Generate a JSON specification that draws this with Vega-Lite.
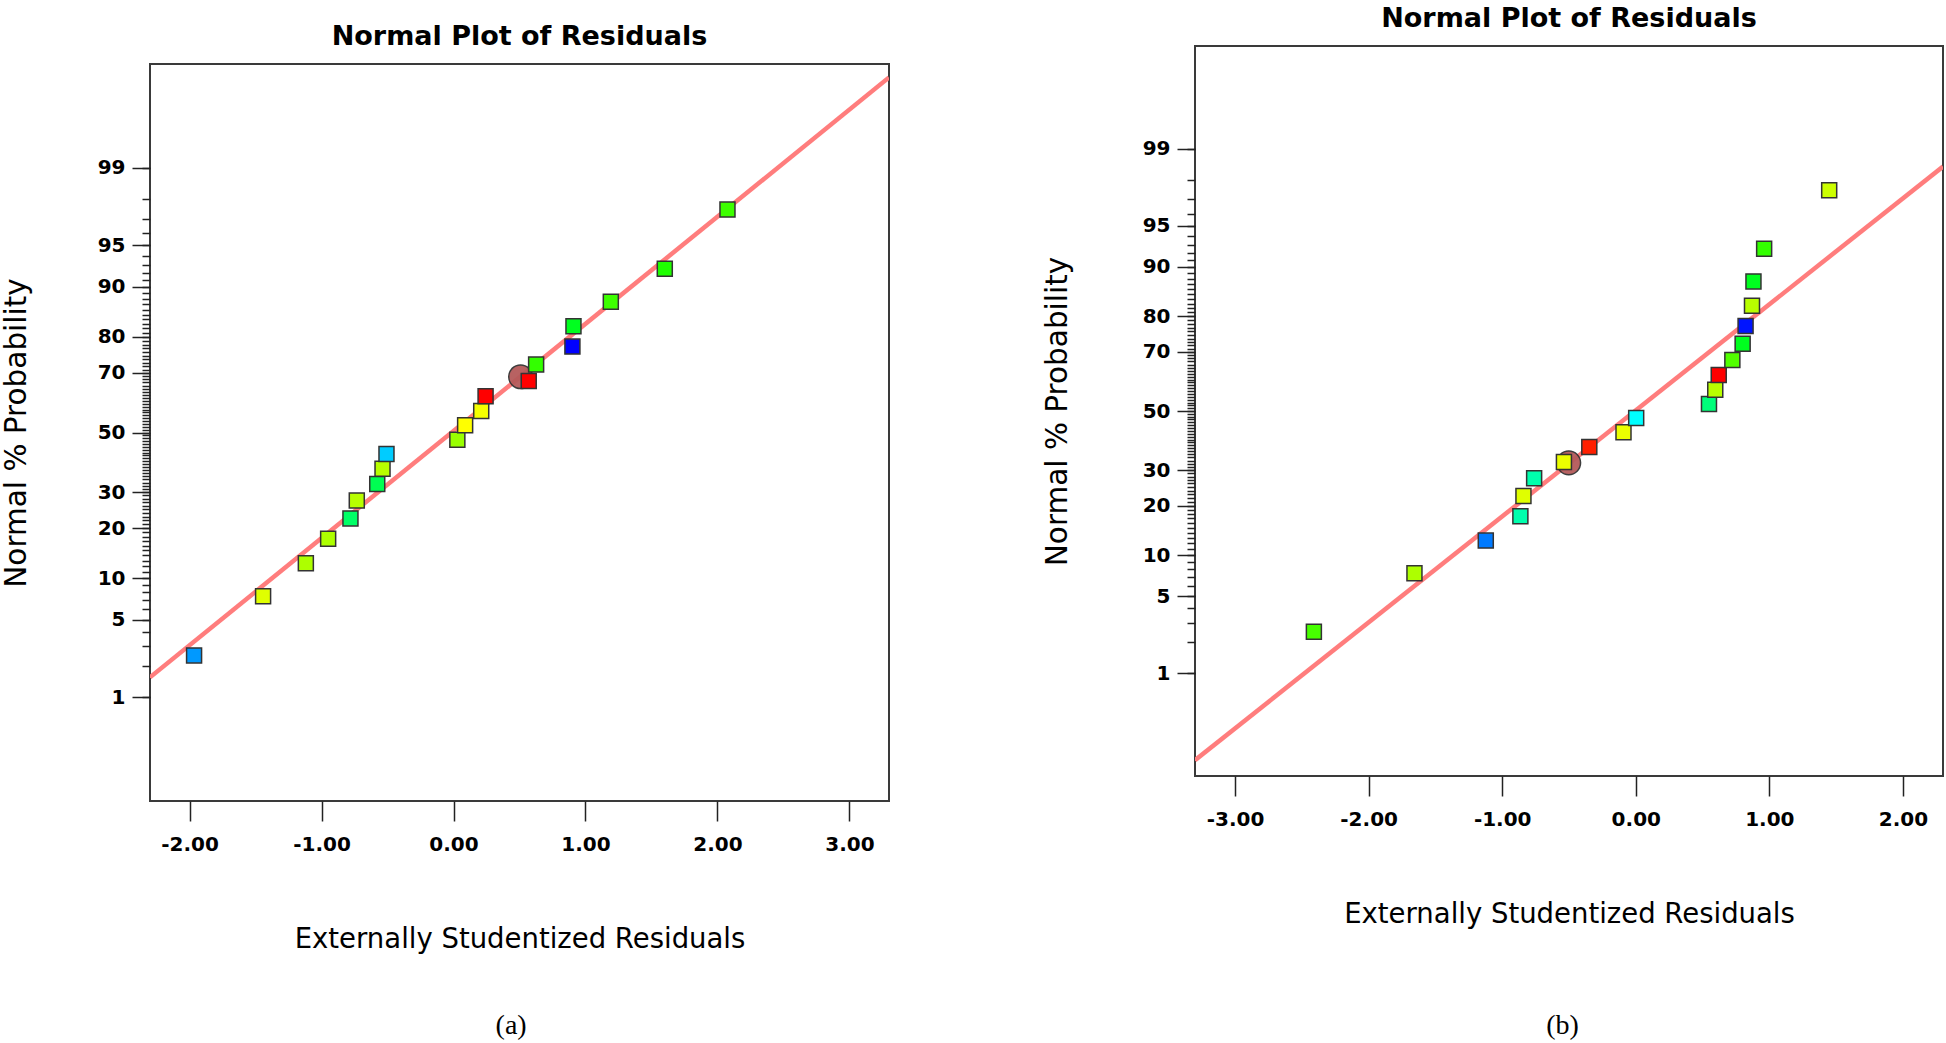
{
  "$schema": "https://vega.github.io/schema/vega-lite/v6.json",
  "padding": {"left": 0, "top": 3, "right": 0, "bottom": 0},
  "background": "white",
  "spacing": 151,
  "datasets": {
    "ptsA": [
      {"x": -1.966, "z": -1.9600, "level": 0.15},
      {"x": -1.443, "z": -1.4395, "level": 0.72},
      {"x": -1.119, "z": -1.1503, "level": 0.67},
      {"x": -0.950, "z": -0.9346, "level": 0.67},
      {"x": -0.781, "z": -0.7554, "level": 0.40},
      {"x": -0.733, "z": -0.5978, "level": 0.68},
      {"x": -0.578, "z": -0.4538, "level": 0.42},
      {"x": -0.538, "z": -0.3186, "level": 0.68},
      {"x": -0.508, "z": -0.1891, "level": 0.20},
      {"x": 0.029, "z": -0.0627, "level": 0.65},
      {"x": 0.088, "z": 0.0627, "level": 0.75},
      {"x": 0.210, "z": 0.1891, "level": 0.74},
      {"x": 0.243, "z": 0.3186, "level": 1.0},
      {"x": 0.570, "z": 0.4538, "level": 1.0},
      {"x": 0.626, "z": 0.5978, "level": 0.55},
      {"x": 0.901, "z": 0.7554, "level": 0.0},
      {"x": 0.909, "z": 0.9346, "level": 0.47},
      {"x": 1.192, "z": 1.1503, "level": 0.56},
      {"x": 1.601, "z": 1.4395, "level": 0.53},
      {"x": 2.076, "z": 1.9600, "level": 0.56}
    ],
    "ptsB": [
      {"x": -2.410, "z": -1.9600, "level": 0.57},
      {"x": -1.657, "z": -1.4395, "level": 0.67},
      {"x": -1.123, "z": -1.1503, "level": 0.12},
      {"x": -0.864, "z": -0.9346, "level": 0.33},
      {"x": -0.841, "z": -0.7554, "level": 0.72},
      {"x": -0.761, "z": -0.5978, "level": 0.33},
      {"x": -0.538, "z": -0.4538, "level": 0.73},
      {"x": -0.348, "z": -0.3186, "level": 0.97},
      {"x": -0.092, "z": -0.1891, "level": 0.73},
      {"x": 0.003, "z": -0.0627, "level": 0.25},
      {"x": 0.548, "z": 0.0627, "level": 0.38},
      {"x": 0.595, "z": 0.1891, "level": 0.68},
      {"x": 0.621, "z": 0.3186, "level": 1.0},
      {"x": 0.723, "z": 0.4538, "level": 0.58},
      {"x": 0.800, "z": 0.5978, "level": 0.47},
      {"x": 0.822, "z": 0.7554, "level": 0.02},
      {"x": 0.870, "z": 0.9346, "level": 0.68},
      {"x": 0.881, "z": 1.1503, "level": 0.47},
      {"x": 0.961, "z": 1.4395, "level": 0.55},
      {"x": 1.448, "z": 1.9600, "level": 0.70}
    ],
    "circA": [{"x": 0.508, "z": 0.49}],
    "circB": [{"x": -0.502, "z": -0.46}],
    "lineA": [{"x": -2.30, "z": -2.153}, {"x": 3.30, "z": 3.122}],
    "lineB": [{"x": -3.30, "z": -3.10}, {"x": 2.30, "z": 2.17}],
    "blank": [{}]
  },
  "hconcat": [
    {
      "title": {"text": "(a)", "orient": "bottom", "anchor": "middle", "offset": 58, "dx": 66, "font": "Liberation Serif", "fontSize": 28, "fontWeight": "normal", "color": "#000"},
      "spacing": 0,
      "vconcat": [
        {
          "width": 739,
          "height": 19,
          "view": {"stroke": null},
          "data": {"name": "blank"},
          "mark": {"type": "point", "opacity": 0, "size": 0, "strokeWidth": 0},
          "encoding": {}
        },
        {
          "width": 739,
          "height": 737,
          "title": {"text": "Normal Plot of Residuals", "offset": 13, "anchor": "middle", "font": "DejaVu Sans", "fontSize": 27, "fontWeight": "bold", "color": "#000"},
          "resolve": {"axis": {"y": "independent"}},
          "layer": [
            {
              "data": {"name": "lineA"},
              "mark": {"type": "line", "color": "#ff7d7d", "strokeWidth": 4.5, "clip": true},
              "encoding": {
                "x": {"field": "x", "type": "quantitative", "scale": {"domain": [-2.3, 3.3], "nice": false, "zero": false},
                  "axis": {"title": "Externally Studentized Residuals", "values": [-2, -1, 0, 1, 2, 3], "labelExpr": "replace(format(datum.value, '.2f'), '\u2212', '-')", "tickSize": 20, "labelPadding": 13, "titlePadding": 71, "labelOverlap": false}},
                "y": {"field": "z", "type": "quantitative", "scale": {"domain": [-3.24, 3.24], "nice": false, "zero": false},
                  "axis": {"title": "Normal % Probability", "orient": "left",
                    "values": [-2.3263, -1.6449, -1.2816, -0.8416, -0.5244, 0, 0.5244, 0.8416, 1.2816, 1.6449, 2.3263],
                    "labelExpr": "'' + round(cumulativeNormal(datum.value)*100)",
                    "tickSize": 18, "labelPadding": 7, "titlePadding": 66, "labelOverlap": false}}
              }
            },
            {
              "data": {"name": "circA"},
              "mark": {"type": "point", "shape": "circle", "filled": true, "fill": "#b55a5a", "stroke": "#333333", "strokeWidth": 1.5, "size": 560, "opacity": 0.95},
              "encoding": {
                "x": {"field": "x", "type": "quantitative"},
                "y": {"field": "z", "type": "quantitative",
                  "axis": {"title": null, "orient": "left", "labels": false, "tickSize": 8,
                    "values": [-2.3263, -2.0537, -1.8808, -1.7507, -1.6449, -1.5548, -1.4758, -1.4051, -1.3408, -1.2816, -1.2265, -1.1750, -1.1264, -1.0803, -1.0364, -0.9945, -0.9542, -0.9154, -0.8779, -0.8416, -0.8064, -0.7722, -0.7388, -0.7063, -0.6745, -0.6433, -0.6128, -0.5828, -0.5534, -0.5244, -0.4959, -0.4677, -0.4399, -0.4125, -0.3853, -0.3585, -0.3319, -0.3055, -0.2793, -0.2533, -0.2275, -0.2019, -0.1764, -0.1510, -0.1257, -0.1004, -0.0753, -0.0502, -0.0251, 0, 0.0251, 0.0502, 0.0753, 0.1004, 0.1257, 0.1510, 0.1764, 0.2019, 0.2275, 0.2533, 0.2793, 0.3055, 0.3319, 0.3585, 0.3853, 0.4125, 0.4399, 0.4677, 0.4959, 0.5244, 0.5534, 0.5828, 0.6128, 0.6433, 0.6745, 0.7063, 0.7388, 0.7722, 0.8064, 0.8416, 0.8779, 0.9154, 0.9542, 0.9945, 1.0364, 1.0803, 1.1264, 1.1750, 1.2265, 1.2816, 1.3408, 1.4051, 1.4758, 1.5548, 1.6449, 1.7507, 1.8808, 2.0537, 2.3263]}}
              }
            },
            {
              "data": {"name": "ptsA"},
              "mark": {"type": "point", "shape": "square", "filled": true, "stroke": "#333333", "strokeWidth": 1.5, "size": 225, "opacity": 1},
              "encoding": {
                "x": {"field": "x", "type": "quantitative"},
                "y": {"field": "z", "type": "quantitative", "axis": null},
                "fill": {"field": "level", "type": "quantitative", "legend": null,
                  "scale": {"type": "linear", "domain": [0, 0.25, 0.5, 0.75, 1], "range": ["#0000ff", "#00ffff", "#00ff00", "#ffff00", "#ff0000"], "interpolate": "rgb"}}
              }
            }
          ]
        }
      ]
    },
    {
      "title": {"text": "(b)", "orient": "bottom", "anchor": "middle", "offset": 83, "dx": 70, "font": "Liberation Serif", "fontSize": 28, "fontWeight": "normal", "color": "#000"},
      "spacing": 0,
      "vconcat": [
        {
          "width": 748,
          "height": 1,
          "view": {"stroke": null},
          "data": {"name": "blank"},
          "mark": {"type": "point", "opacity": 0, "size": 0, "strokeWidth": 0},
          "encoding": {}
        },
        {
          "width": 748,
          "height": 730,
          "title": {"text": "Normal Plot of Residuals", "offset": 13, "anchor": "middle", "font": "DejaVu Sans", "fontSize": 27, "fontWeight": "bold", "color": "#000"},
          "resolve": {"axis": {"y": "independent"}},
          "layer": [
            {
              "data": {"name": "lineB"},
              "mark": {"type": "line", "color": "#ff7d7d", "strokeWidth": 4.5, "clip": true},
              "encoding": {
                "x": {"field": "x", "type": "quantitative", "scale": {"domain": [-3.3, 2.3], "nice": false, "zero": false},
                  "axis": {"title": "Externally Studentized Residuals", "values": [-3, -2, -1, 0, 1, 2], "labelExpr": "replace(format(datum.value, '.2f'), '\u2212', '-')", "tickSize": 20, "labelPadding": 13, "titlePadding": 71, "labelOverlap": false}},
                "y": {"field": "z", "type": "quantitative", "scale": {"domain": [-3.24, 3.24], "nice": false, "zero": false},
                  "axis": {"title": "Normal % Probability", "orient": "left",
                    "values": [-2.3263, -1.6449, -1.2816, -0.8416, -0.5244, 0, 0.5244, 0.8416, 1.2816, 1.6449, 2.3263],
                    "labelExpr": "'' + round(cumulativeNormal(datum.value)*100)",
                    "tickSize": 18, "labelPadding": 7, "titlePadding": 70, "labelOverlap": false}}
              }
            },
            {
              "data": {"name": "circB"},
              "mark": {"type": "point", "shape": "circle", "filled": true, "fill": "#b55a5a", "stroke": "#333333", "strokeWidth": 1.5, "size": 560, "opacity": 0.95},
              "encoding": {
                "x": {"field": "x", "type": "quantitative"},
                "y": {"field": "z", "type": "quantitative",
                  "axis": {"title": null, "orient": "left", "labels": false, "tickSize": 8,
                    "values": [-2.3263, -2.0537, -1.8808, -1.7507, -1.6449, -1.5548, -1.4758, -1.4051, -1.3408, -1.2816, -1.2265, -1.1750, -1.1264, -1.0803, -1.0364, -0.9945, -0.9542, -0.9154, -0.8779, -0.8416, -0.8064, -0.7722, -0.7388, -0.7063, -0.6745, -0.6433, -0.6128, -0.5828, -0.5534, -0.5244, -0.4959, -0.4677, -0.4399, -0.4125, -0.3853, -0.3585, -0.3319, -0.3055, -0.2793, -0.2533, -0.2275, -0.2019, -0.1764, -0.1510, -0.1257, -0.1004, -0.0753, -0.0502, -0.0251, 0, 0.0251, 0.0502, 0.0753, 0.1004, 0.1257, 0.1510, 0.1764, 0.2019, 0.2275, 0.2533, 0.2793, 0.3055, 0.3319, 0.3585, 0.3853, 0.4125, 0.4399, 0.4677, 0.4959, 0.5244, 0.5534, 0.5828, 0.6128, 0.6433, 0.6745, 0.7063, 0.7388, 0.7722, 0.8064, 0.8416, 0.8779, 0.9154, 0.9542, 0.9945, 1.0364, 1.0803, 1.1264, 1.1750, 1.2265, 1.2816, 1.3408, 1.4051, 1.4758, 1.5548, 1.6449, 1.7507, 1.8808, 2.0537, 2.3263]}}
              }
            },
            {
              "data": {"name": "ptsB"},
              "mark": {"type": "point", "shape": "square", "filled": true, "stroke": "#333333", "strokeWidth": 1.5, "size": 225, "opacity": 1},
              "encoding": {
                "x": {"field": "x", "type": "quantitative"},
                "y": {"field": "z", "type": "quantitative", "axis": null},
                "fill": {"field": "level", "type": "quantitative", "legend": null,
                  "scale": {"type": "linear", "domain": [0, 0.25, 0.5, 0.75, 1], "range": ["#0000ff", "#00ffff", "#00ff00", "#ffff00", "#ff0000"], "interpolate": "rgb"}}
              }
            }
          ]
        }
      ]
    }
  ],
  "resolve": {"scale": {"fill": "independent"}},
  "config": {
    "view": {"stroke": "#3a3a3a", "strokeWidth": 2},
    "axis": {
      "domain": false, "grid": false,
      "tickColor": "#222222", "tickWidth": 1.5,
      "labelFont": "DejaVu Sans", "labelFontSize": 20, "labelFontWeight": "bold", "labelColor": "#000000",
      "labelOverlap": false, "labelFlush": false, "labelBound": false,
      "titleFont": "DejaVu Sans", "titleFontSize": 27.5, "titleFontWeight": "normal", "titleColor": "#000000"
    },
    "axisY": {"titleFontSize": 29.5}
  }
}
